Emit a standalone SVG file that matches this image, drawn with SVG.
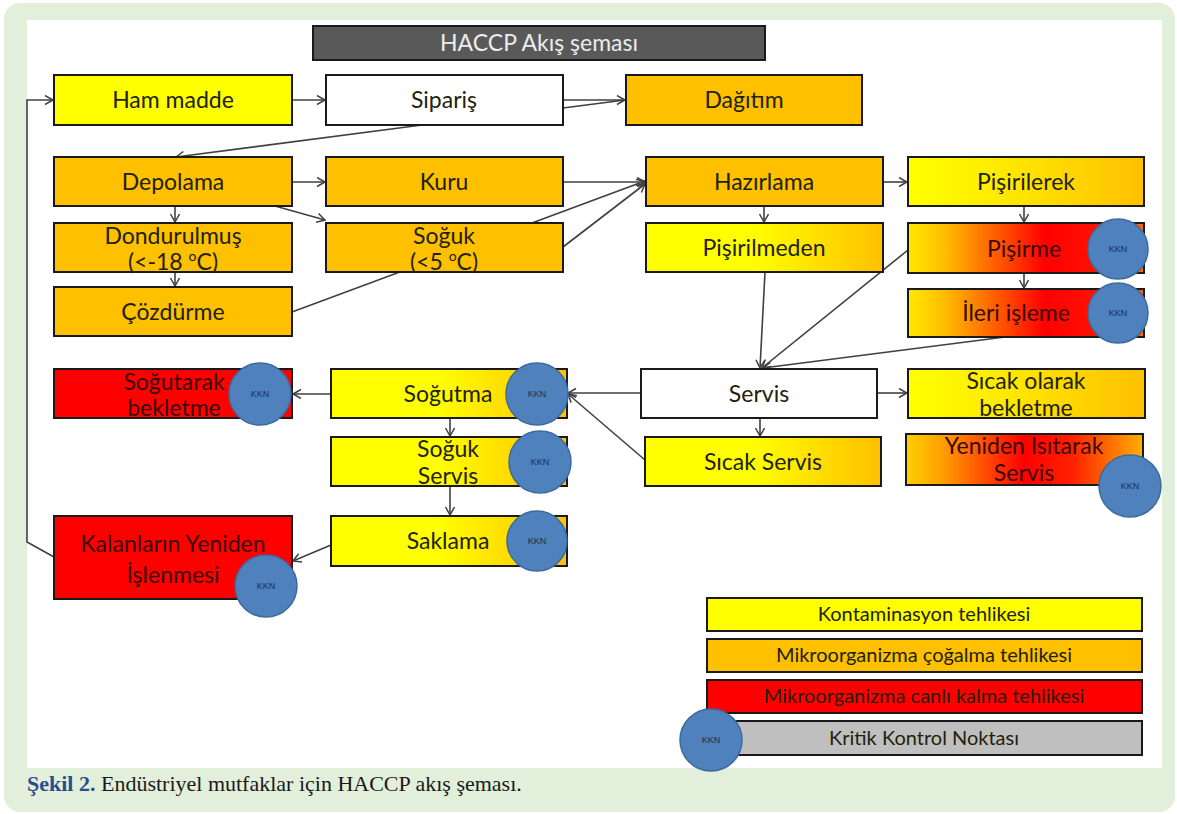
<svg xmlns="http://www.w3.org/2000/svg" width="1177" height="814" viewBox="0 0 1177 814">
<style>
.box{stroke:#1a1a1a;stroke-width:2}
.t{font-family:Lato,"Open Sans","Liberation Sans",sans-serif;font-size:23px;fill:#22220c;text-anchor:middle}
.tr{fill:#380808}
.lg{font-family:Lato,"Open Sans","Liberation Sans",sans-serif;font-size:20px;fill:#22220c;text-anchor:middle}
.k{fill:#4f81bd;stroke:#3d6a9e;stroke-width:1.5}
.kt{font-family:"Liberation Sans",Arial,sans-serif;font-size:9px;fill:#1f2f4f;text-anchor:middle}
.c{stroke:#404040;stroke-width:1.6;fill:none}
.ca{stroke:#404040;stroke-width:1.6;fill:none;marker-end:url(#ah)}
</style>
<defs>
<marker id="ah" markerUnits="userSpaceOnUse" markerWidth="12" markerHeight="12" refX="9" refY="5" orient="auto">
<path d="M1,0.5 L9,5 L1,9.5" fill="none" stroke="#404040" stroke-width="1.5"/>
</marker>
<linearGradient id="yo" x1="0" x2="1" y1="0" y2="0">
<stop offset="0" stop-color="#ffff00"/><stop offset="0.45" stop-color="#ffff00"/><stop offset="1" stop-color="#ffc000"/>
</linearGradient>
<linearGradient id="yo2" x1="0" x2="1" y1="0" y2="0">
<stop offset="0" stop-color="#ffff00"/><stop offset="0.3" stop-color="#fff000"/><stop offset="1" stop-color="#ffc000"/>
</linearGradient>
<linearGradient id="yr" x1="0" x2="1" y1="0" y2="0">
<stop offset="0" stop-color="#ffe800"/><stop offset="0.15" stop-color="#ffc000"/><stop offset="0.58" stop-color="#ff0000"/><stop offset="0.78" stop-color="#ff1000"/><stop offset="1" stop-color="#ff6a00"/>
</linearGradient>
<linearGradient id="yr2" x1="0" x2="1" y1="0" y2="0">
<stop offset="0" stop-color="#ffd000"/><stop offset="0.15" stop-color="#ffa000"/><stop offset="0.5" stop-color="#ff0000"/><stop offset="0.7" stop-color="#ff2000"/><stop offset="1" stop-color="#ffb000"/>
</linearGradient>
</defs>
<rect x="0" y="0" width="1177" height="814" fill="#ffffff"/>
<rect x="4" y="3" width="1171" height="809" rx="16" fill="#e2efda"/>
<rect x="27" y="20" width="1135" height="748" fill="#ffffff"/>
<text x="27" y="791" font-family="'Liberation Serif','Times New Roman',serif" font-size="22" fill="#1a1a1a"><tspan font-weight="bold" fill="#2a4d8f">Şekil 2.</tspan> Endüstriyel mutfaklar için HACCP akış şeması.</text>

<g id="connectors">
<polyline class="ca" points="54,557 27,542 27,100 53,100"/>
<line class="ca" x1="292" y1="100" x2="325" y2="100"/>
<line class="ca" x1="563" y1="100" x2="625" y2="100"/>
<line class="c" x1="563" y1="108" x2="625" y2="100"/>
<line class="ca" x1="422" y1="125" x2="176" y2="157"/>
<line class="ca" x1="292" y1="182" x2="325" y2="182"/>
<line class="ca" x1="275" y1="206" x2="325" y2="220"/>
<line class="ca" x1="175" y1="206" x2="175" y2="222"/>
<line class="ca" x1="175" y1="272" x2="175" y2="286"/>
<line class="ca" x1="292" y1="312" x2="645" y2="181"/>
<line class="ca" x1="563" y1="182" x2="645" y2="182"/>
<line class="ca" x1="563" y1="247" x2="645" y2="184"/>
<line class="ca" x1="883" y1="182" x2="907" y2="182"/>
<line class="ca" x1="764" y1="206" x2="764" y2="222"/>
<line class="ca" x1="1024" y1="206" x2="1024" y2="222"/>
<line class="ca" x1="1024" y1="273" x2="1024" y2="288"/>
<line class="ca" x1="765" y1="272" x2="760" y2="368"/>
<line class="ca" x1="908" y1="250" x2="762" y2="368"/>
<line class="ca" x1="1005" y1="337" x2="763" y2="368"/>
<line class="ca" x1="877" y1="393" x2="907" y2="393"/>
<line class="ca" x1="760" y1="418" x2="760" y2="436"/>
<line class="ca" x1="641" y1="393" x2="568" y2="393"/>
<line class="ca" x1="645" y1="460" x2="568" y2="394"/>
<line class="ca" x1="331" y1="394" x2="293" y2="394"/>
<line class="ca" x1="450" y1="418" x2="450" y2="436"/>
<line class="ca" x1="450" y1="486" x2="450" y2="515"/>
<line class="ca" x1="331" y1="545" x2="293" y2="561"/>
</g>

<g id="title"><rect x="313" y="26" width="452" height="34" fill="#595959" stroke="#1a1a1a" stroke-width="2"/><text x="539" y="51" class="t" style="fill:#ececec">HACCP Akış şeması</text></g>

<g id="ham-madde"><rect class="box" x="54" y="75" width="238" height="50" fill="#ffff00"/><text class="t" x="173" y="108">Ham madde</text></g>
<g id="siparis"><rect class="box" x="326" y="75" width="237" height="50" fill="#ffffff"/><text class="t" x="444" y="108">Sipariş</text></g>
<g id="dagitim"><rect class="box" x="626" y="75" width="236" height="50" fill="#ffc000"/><text class="t" x="744" y="108">Dağıtım</text></g>

<g id="depolama"><rect class="box" x="54" y="157" width="238" height="49" fill="#ffc000"/><text class="t" x="173" y="190">Depolama</text></g>
<g id="kuru"><rect class="box" x="326" y="157" width="237" height="49" fill="#ffc000"/><text class="t" x="444" y="190">Kuru</text></g>
<g id="hazirlama"><rect class="box" x="646" y="157" width="237" height="49" fill="#ffc000"/><text class="t" x="764" y="190">Hazırlama</text></g>
<g id="pisirilerek"><rect class="box" x="908" y="157" width="236" height="49" fill="url(#yo2)"/><text class="t" x="1026" y="190">Pişirilerek</text></g>

<g id="dondurulmus"><rect class="box" x="54" y="223" width="238" height="49" fill="#ffc000"/><text class="t" x="173" y="244">Dondurulmuş</text><text class="t" x="173" y="270">(&lt;-18 <tspan font-size="14" dy="-9">o</tspan><tspan dy="9">C)</tspan></text></g>
<g id="soguk"><rect class="box" x="326" y="223" width="237" height="49" fill="#ffc000"/><text class="t" x="444" y="244">Soğuk</text><text class="t" x="444" y="270">(&lt;5 <tspan font-size="14" dy="-9">o</tspan><tspan dy="9">C)</tspan></text></g>
<g id="pisirilmeden"><rect class="box" x="646" y="223" width="237" height="49" fill="url(#yo)"/><text class="t" x="764" y="256">Pişirilmeden</text></g>
<g id="pisirme"><rect class="box" x="908" y="223" width="236" height="50" fill="url(#yr)"/><text class="t tr" x="1024" y="257">Pişirme</text><circle class="k" cx="1118" cy="249" r="30"/><text class="kt" x="1118" y="252">KKN</text></g>

<g id="cozdurme"><rect class="box" x="54" y="287" width="238" height="49" fill="#ffc000"/><text class="t" x="173" y="320">Çözdürme</text></g>
<g id="ileri-isleme"><rect class="box" x="908" y="289" width="236" height="48" fill="url(#yr)"/><text class="t tr" x="1016" y="321">İleri işleme</text><circle class="k" cx="1118" cy="313" r="30"/><text class="kt" x="1118" y="316">KKN</text></g>

<g id="sogutarak-bekletme"><rect class="box" x="54" y="369" width="238" height="49" fill="#ff0000"/><text class="t tr" x="174" y="390">Soğutarak</text><text class="t tr" x="174" y="416">bekletme</text><circle class="k" cx="260" cy="394" r="31"/><text class="kt" x="260" y="397">KKN</text></g>
<g id="sogutma"><rect class="box" x="331" y="369" width="236" height="49" fill="url(#yo)"/><text class="t" x="448" y="402">Soğutma</text><circle class="k" cx="537" cy="394" r="31"/><text class="kt" x="537" y="397">KKN</text></g>
<g id="servis"><rect class="box" x="641" y="369" width="236" height="49" fill="#ffffff"/><text class="t" x="759" y="402">Servis</text></g>
<g id="sicak-olarak-bekletme"><rect class="box" x="908" y="369" width="237" height="49" fill="url(#yo2)"/><text class="t" x="1026" y="389">Sıcak olarak</text><text class="t" x="1026" y="416">bekletme</text></g>

<g id="soguk-servis"><rect class="box" x="331" y="437" width="236" height="49" fill="url(#yo)"/><text class="t" x="448" y="457">Soğuk</text><text class="t" x="448" y="484">Servis</text><circle class="k" cx="540" cy="462" r="31"/><text class="kt" x="540" y="465">KKN</text></g>
<g id="sicak-servis"><rect class="box" x="645" y="437" width="236" height="49" fill="url(#yo)"/><text class="t" x="763" y="470">Sıcak Servis</text></g>
<g id="yeniden-isitarak-servis"><rect class="box" x="906" y="434" width="237" height="51" fill="url(#yr2)"/><text class="t tr" x="1024" y="454">Yeniden Isıtarak</text><text class="t tr" x="1024" y="481">Servis</text><circle class="k" cx="1130" cy="486" r="31"/><text class="kt" x="1130" y="489">KKN</text></g>

<g id="saklama"><rect class="box" x="331" y="516" width="236" height="50" fill="url(#yo)"/><text class="t" x="448" y="549">Saklama</text><circle class="k" cx="537" cy="541" r="30"/><text class="kt" x="537" y="544">KKN</text></g>
<g id="kalanlarin-yeniden-islenmesi"><rect class="box" x="54" y="516" width="238" height="83" fill="#ff0000"/><text class="t tr" x="173" y="552">Kalanların Yeniden</text><text class="t tr" x="173" y="583">İşlenmesi</text><circle class="k" cx="266" cy="586" r="31"/><text class="kt" x="266" y="589">KKN</text></g>

<g id="legend">
<rect class="box" x="707" y="598" width="435" height="33" fill="#ffff00"/><text class="lg" x="924" y="621">Kontaminasyon tehlikesi</text>
<rect class="box" x="707" y="639" width="435" height="33" fill="#ffc000"/><text class="lg" x="924" y="662">Mikroorganizma çoğalma tehlikesi</text>
<rect class="box" x="707" y="680" width="435" height="33" fill="#ff0000"/><text class="lg tr" x="924" y="703">Mikroorganizma canlı kalma tehlikesi</text>
<rect class="box" x="720" y="721" width="422" height="34" fill="#bfbfbf"/><text class="lg" x="924" y="745">Kritik Kontrol Noktası</text>
<circle class="k" cx="711" cy="740" r="31"/><text class="kt" x="711" y="743">KKN</text>
</g>
</svg>
